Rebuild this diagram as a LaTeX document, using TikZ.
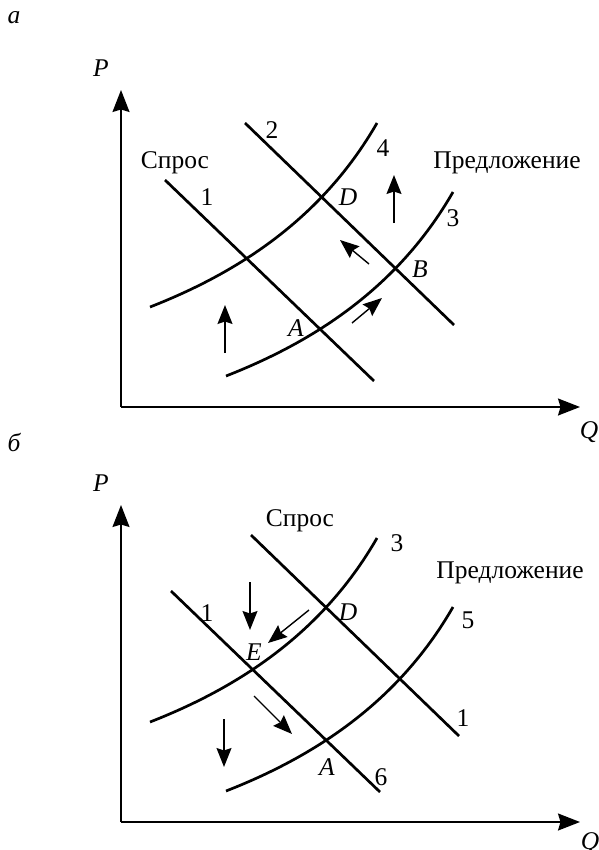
\documentclass[tikz,border=0pt]{standalone}
\usepackage{fontspec}
\setmainfont{Liberation Serif}
\usetikzlibrary{arrows.meta}
\tikzset{
  curve/.style={line width=2.7pt},
  axisline/.style={line width=1.6pt,-{Stealth[length=22pt,width=17pt,inset=2.5pt]}},
  movearrow/.style={line width=1.4pt,-{Stealth[length=19pt,width=15pt,inset=2.5pt]}},
  lbl/.style={inner sep=0pt,font=\fontsize{25.5}{29}\selectfont},
  ilbl/.style={inner sep=0pt,font=\fontsize{25.5}{29}\selectfont\itshape}
}
\newcommand{\supplycurve}[2]{%
  \draw[curve,shift={(#1,#2)}] (150,307) .. controls (250,268) and (327,210) .. (377,123);}
\begin{document}
\begin{tikzpicture}[x=1pt,y=-1pt]
\useasboundingbox (0,0) rectangle (598,850);
% ---------- panel a ----------
\node[ilbl] (la) at (14,18) {a};
\coordinate (oa) at (121,407);
\coordinate (pa) at (121,90);
\coordinate (qa) at (580,407);
\draw[axisline] (oa) -- (pa);
\draw[axisline] (oa) -- (qa);
\node[ilbl] (Pa) at (101,68) {P};
\node[ilbl] (Qa) at (589,432) {Q};
% demand lines
\coordinate (d1s) at (165,180); \coordinate (d1e) at (374,381);
\coordinate (d2s) at (245,123); \coordinate (d2e) at (454,325);
\draw[curve] (d1s) -- (d1e);
\draw[curve] (d2s) -- (d2e);
% supply curves
\supplycurve{0}{0}
\supplycurve{76}{69}
% labels
\node[lbl] (spa) at (175,163) {Спрос};
\node[lbl] (n1a) at (207,197) {1};
\node[lbl] (n2a) at (272,130) {2};
\node[lbl] (n4a) at (383,148) {4};
\node[lbl] (pra) at (507,163) {Предложение};
\node[ilbl] (Da) at (348,197) {D};
\node[lbl] (n3a) at (453,218) {3};
\node[ilbl] (Ba) at (420,269) {B};
\node[ilbl] (Aa) at (296,328) {A};
% movement arrows
\coordinate (a1s) at (394,223); \coordinate (a1e) at (394,175);
\coordinate (a2s) at (225,353); \coordinate (a2e) at (225,305);
\coordinate (a3s) at (369,264); \coordinate (a3e) at (340,240);
\coordinate (a4s) at (352,323); \coordinate (a4e) at (382,298);
\draw[movearrow] (a1s) -- (a1e);
\draw[movearrow] (a2s) -- (a2e);
\draw[movearrow] (a3s) -- (a3e);
\draw[movearrow] (a4s) -- (a4e);
% ---------- panel b ----------
\node[ilbl] (lb) at (14,442) {б};
\coordinate (ob) at (121,822);
\coordinate (pb) at (121,505);
\coordinate (qb) at (580,822);
\draw[axisline] (ob) -- (pb);
\draw[axisline] (ob) -- (qb);
\node[ilbl] (Pb) at (101,483) {P};
\node[ilbl] (Qb) at (590,843) {Q};
% demand lines
\coordinate (e1s) at (251,535); \coordinate (e1e) at (459,736);
\coordinate (e2s) at (171,591); \coordinate (e2e) at (380,792);
\draw[curve] (e1s) -- (e1e);
\draw[curve] (e2s) -- (e2e);
% supply curves
\supplycurve{0}{415}
\supplycurve{76}{484}
% labels
\node[lbl] (spb) at (300,521) {Спрос};
\node[lbl] (n3b) at (397,543) {3};
\node[lbl] (prb) at (510,573) {Предложение};
\node[lbl] (n1b) at (207,613) {1};
\node[ilbl] (Db) at (348,612) {D};
\node[lbl] (n5b) at (468,620) {5};
\node[ilbl] (Eb) at (254,652) {E};
\node[lbl] (n1c) at (463,718) {1};
\node[ilbl] (Ab) at (327,767) {A};
\node[lbl] (n6b) at (381,777) {6};
% movement arrows
\coordinate (b1s) at (250,582); \coordinate (b1e) at (250,630);
\coordinate (b2s) at (309,610); \coordinate (b2e) at (268,643);
\coordinate (b3s) at (254,696); \coordinate (b3e) at (292,734);
\coordinate (b4s) at (224,719); \coordinate (b4e) at (224,767);
\draw[movearrow] (b1s) -- (b1e);
\draw[movearrow] (b2s) -- (b2e);
\draw[movearrow] (b3s) -- (b3e);
\draw[movearrow] (b4s) -- (b4e);
\end{tikzpicture}
\end{document}
